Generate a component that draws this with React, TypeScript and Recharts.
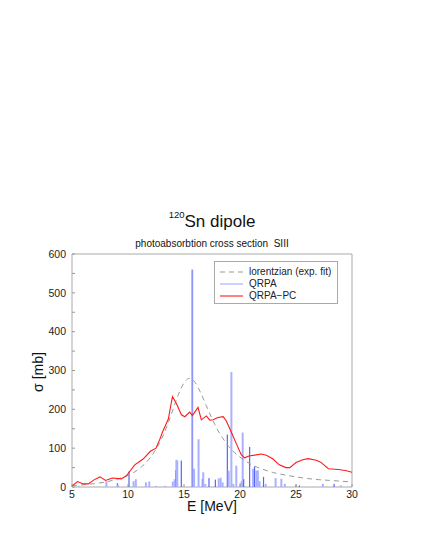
import React from 'react';
import {
  ComposedChart, Bar, Line, XAxis, YAxis, ReferenceArea, Legend, Customized,
} from 'recharts';

const FONT = '"Liberation Sans", Arial, Helvetica, sans-serif';

// QRPA strength spikes (E in MeV, sigma in mb); kind: l = light, d = dark, m = medium
const spikeE = [5.6, 8.07, 9.05, 9.12, 10.09, 10.5, 10.7, 11.6, 11.9, 12.5, 13.3, 14.0, 14.17, 14.26, 14.32, 14.4, 14.76, 15.74, 15.9, 16.3, 16.64, 16.72, 16.9, 17.23, 17.8, 18.1, 18.27, 18.45, 18.87, 18.99, 19.23, 19.4, 19.67, 20.05, 20.15, 20.24, 20.33, 20.86, 21.16, 21.3, 21.46, 21.6, 21.75, 22.1, 22.3, 23.18, 23.69, 24.0, 25.0, 25.3, 27.4, 28.4, 29.0];
const spikeV = [3, 15, 10, 6, 40, 15, 20, 12, 14, 3, 3, 14, 20, 43, 70, 68, 68, 560, 47, 123, 21, 38, 8, 23, 19, 22, 24, 12, 135, 42, 296, 8, 55, 10, 15, 140, 20, 103, 47, 53, 42, 43, 15, 26, 8, 23, 21, 8, 6, 4, 8, 8, 4];
const spikeKind = ['l', 'l', 'd', 'l', 'd', 'l', 'l', 'l', 'l', 'l', 'l', 'l', 'l', 'd', 'l', 'l', 'd', 'm', 'l', 'l', 'd', 'l', 'l', 'd', 'd', 'l', 'l', 'l', 'd', 'l', 'l', 'l', 'l', 'l', 'l', 'l', 'd', 'd', 'l', 'd', 'l', 'l', 'l', 'd', 'l', 'l', 'l', 'l', 'l', 'd', 'l', 'd', 'l'];

// QRPA-PC curve
const pcE = [5, 5.5, 6, 6.45, 7, 7.5, 8, 8.6, 9.4, 9.85, 10.15, 10.6, 11.35, 12, 12.5, 12.83, 13.1, 13.6, 13.97, 14.32, 14.77, 15.07, 15.51, 15.75, 16.25, 16.55, 17.0, 17.3, 17.6, 18.03, 18.5, 18.78, 19.2, 19.65, 20.1, 20.4, 20.8, 21.3, 21.9, 22.35, 22.95, 23.5, 24.1, 24.45, 25.0, 25.6, 26.1, 26.8, 27.2, 27.9, 28.8, 29.5, 30];
const pcV = [3, 14, 8, 8, 19, 26, 17, 23, 21, 29, 40, 57, 72, 92, 100, 122, 143, 175, 233, 215, 186, 181, 193, 184, 205, 173, 183, 172, 173, 179, 181, 170, 143, 113, 84, 75, 80, 82, 85, 82, 72, 57, 50, 50, 63, 70, 73, 69, 64, 47, 45, 42, 38];

// Lorentzian (exp. fit)
const lorE = [5, 6, 7, 8, 9, 10, 11, 12, 12.5, 13, 13.5, 14, 14.5, 15, 15.5, 16, 16.5, 17, 17.5, 18, 18.5, 19, 19.5, 20, 21, 22, 23, 24, 25, 26, 27, 28, 29, 30];
const lorV = [3.6, 5.7, 8.7, 13, 20, 30, 47, 76, 97, 124, 158, 198, 238, 268, 280, 269, 242, 209, 176, 147, 124, 104, 89, 77, 58, 46, 37, 31, 26, 22, 19, 17, 15, 13];

const xTicks = [5, 10, 15, 20, 25, 30];
const yTicks = [0, 50, 100, 150, 200, 250, 300, 350, 400, 450, 500, 550, 600];

const spikeData = spikeE.map((e, i) => ({ e, v: spikeV[i], k: spikeKind[i] }));
const pcData = pcE.map((e, i) => ({ e, pc: pcV[i] }));
const lorData = lorE.map((e, i) => ({ e, lor: lorV[i] }));

const kindStyle: Record<string, { w: number; c: string }> = {
  l: { w: 2, c: '#aab2ff' },
  d: { w: 1.2, c: '#5a66f2' },
  m: { w: 1.8, c: '#8e94fa' },
};

const SpikeShape = (props: any) => {
  const { x, y, width, height, payload } = props;
  if (!height || height <= 0) return null;
  const s = kindStyle[payload.k] || kindStyle.l;
  const cx = x + width / 2;
  return <rect x={cx - s.w / 2} y={y} width={s.w} height={height} fill={s.c} />;
};

const YTick = (props: any) => {
  const { x, y, payload } = props;
  const ax = x + 6;
  const v = payload.value;
  return (
    <g>
      <line x1={ax} x2={ax + 3} y1={y} y2={y} stroke="#999" strokeWidth={1} />
      {v % 100 === 0 ? (
        <text x={x} y={y} dy="0.35em" textAnchor="end" fontSize={10.5} fontFamily={FONT} fill="#222">{v}</text>
      ) : null}
    </g>
  );
};

const XTick = (props: any) => {
  const { x, y, payload } = props;
  const ay = y - 3;
  return (
    <g>
      <line x1={x} x2={x} y1={ay} y2={ay - 3} stroke="#999" strokeWidth={1} />
      <text x={x} y={y} dy="0.75em" textAnchor="middle" fontSize={10.5} fontFamily={FONT} fill="#222">{payload.value}</text>
    </g>
  );
};

const legendOrder = ['lorentzian (exp. fit)', 'QRPA', 'QRPA\u2212PC'];
const legendStyle: Record<string, { c: string; dash?: string; w: number }> = {
  'lorentzian (exp. fit)': { c: '#999', dash: '5 4', w: 1 },
  QRPA: { c: '#aab2ff', w: 1.2 },
  'QRPA\u2212PC': { c: '#ff1a1a', w: 1.1 },
};

const renderLegend = (props: any) => {
  const items = (props.payload || []).slice().sort(
    (a: any, b: any) => legendOrder.indexOf(a.value) - legendOrder.indexOf(b.value),
  );
  const rowY = [10, 21.5, 33.5];
  return (
    <div style={{ position: 'relative', width: 124, height: 43, boxSizing: 'border-box', border: '1px solid #aaa', background: '#fff' }}>
      {items.map((it: any, i: number) => {
        const st = legendStyle[it.value] || { c: it.color, w: 1 };
        return (
          <div key={it.value} style={{ position: 'absolute', left: 0, top: rowY[i] - 7, height: 14, width: 122 }}>
            <svg width={30} height={14} style={{ position: 'absolute', left: 5, top: 0 }}>
              <line x1={0} x2={23} y1={7} y2={7} stroke={st.c} strokeWidth={st.w} strokeDasharray={st.dash} />
            </svg>
            <span style={{ position: 'absolute', left: 34, top: 0, lineHeight: '14px', fontSize: 10, fontFamily: FONT, color: '#222', whiteSpace: 'nowrap' }}>{it.value}</span>
          </div>
        );
      })}
    </div>
  );
};

const Texts = () => (
  <g fontFamily={FONT} fill="#111">
    <text x={212} y={226.5} textAnchor="middle" fontSize={17}>
      <tspan fontSize={9.5} dy={-8.5}>120</tspan>
      <tspan dy={8.5}>Sn dipole</tspan>
    </text>
    <text x={212} y={246.5} textAnchor="middle" fontSize={10} style={{ whiteSpace: 'pre' }}>
      {'photoabsorbtion cross section\u00a0\u00a0SIII'}
    </text>
    <text x={212} y={511} textAnchor="middle" fontSize={14}>E [MeV]</text>
    <text transform="translate(43,372) rotate(-90)" textAnchor="middle" fontSize={14}>σ [mb]</text>
  </g>
);

export default function App() {
  return (
    <div style={{ position: 'absolute', left: 0, top: 0, width: 425, height: 550, background: '#fff' }}>
      <ComposedChart
        width={425}
        height={550}
        data={spikeData}
        margin={{ top: 254, right: 73, bottom: 33, left: 0 }}
      >
        <XAxis
          dataKey="e"
          type="number"
          domain={[5, 30]}
          ticks={xTicks}
          allowDataOverflow
          height={30}
          tickSize={0}
          tickMargin={3}
          tickLine={false}
          axisLine={false}
          tick={<XTick />}
        />
        <YAxis
          type="number"
          domain={[0, 600]}
          ticks={yTicks}
          interval={0}
          allowDataOverflow
          width={72}
          tickSize={0}
          tickMargin={6}
          tickLine={false}
          axisLine={false}
          tick={<YTick />}
        />
        <ReferenceArea x1={5} x2={30} y1={0} y2={600} fill="none" stroke="#aaa" strokeWidth={1} fillOpacity={0} />
        <Line
          data={lorData}
          dataKey="lor"
          name="lorentzian (exp. fit)"
          type="monotone"
          stroke="#999"
          strokeWidth={1}
          strokeDasharray="5 4"
          dot={false}
          activeDot={false}
          isAnimationActive={false}
        />
        <Bar
          dataKey="v"
          name="QRPA"
          fill="#aab2ff"
          barSize={2}
          shape={<SpikeShape />}
          isAnimationActive={false}
        />
        <Line
          data={pcData}
          dataKey="pc"
          name={'QRPA\u2212PC'}
          type="linear"
          stroke="#ff1a1a"
          strokeWidth={1.1}
          dot={false}
          activeDot={false}
          isAnimationActive={false}
        />
        <Legend
          layout="horizontal"
          verticalAlign="middle"
          align="center"
          content={renderLegend}
          wrapperStyle={{ position: 'absolute', left: 214, top: 261, width: 124, height: 43 }}
        />
        <Customized component={Texts} />
      </ComposedChart>
    </div>
  );
}
